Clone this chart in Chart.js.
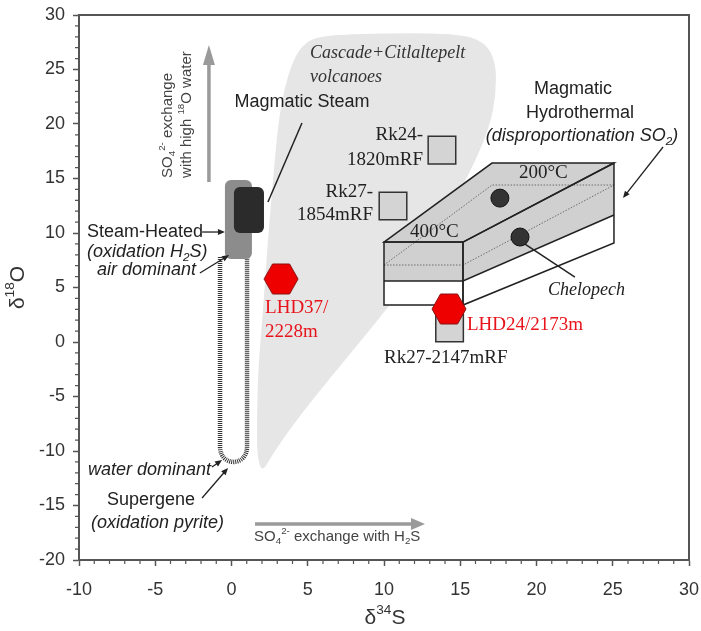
<!DOCTYPE html>
<html>
<head>
<meta charset="utf-8">
<script src="https://cdn.jsdelivr.net/npm/chart.js@4.4.1/dist/chart.umd.min.js"></script>
<style>
  html, body { margin: 0; padding: 0; background: #fff; }
  #wrap { width: 701px; height: 631px; }
</style>
</head>
<body>
<div id="wrap"><canvas id="chart" width="701" height="631"></canvas></div>
<script>
// axis ticks (d34S, d18O)
const xTicks = [-10, -5, 0, 5, 10, 15, 20, 25, 30];
const yTicks = [-20, -15, -10, -5, 0, 5, 10, 15, 20, 25, 30];

// samples
const lhdPoints = [{ x: 3.25, y: 5.78 }, { x: 14.26, y: 3.03 }];            // LHD37/2228m, LHD24/2173m
const chelopechPoints = [{ x: 17.6, y: 13.2 }, { x: 18.92, y: 9.63 }];
const rkPoints = [{ x: 13.8, y: 17.6 }, { x: 10.59, y: 12.48 }, { x: 14.3, y: 1.28 }];

// Cascade + Citlaltepelt field outline
const cascadeX = [2.0, 1.67, 1.67, 1.74, 2.07, 2.39, 2.72, 3.05, 3.44, 4.03, 4.82, 6.13, 11.05, 14.98,
  16.62, 17.34, 17.34, 16.95, 16.03, 14.66, 13.02, 11.51, 9.08, 6.46, 4.16, 2.66];
const cascadeY = [-12.02, -10.37, -7.16, -2.57, 2.94, 9.36, 14.86, 19.91, 23.12, 25.87, 27.52, 28.17, 28.35, 28.26,
  27.52, 25.69, 22.66, 19.91, 16.7, 13.03, 9.36, 5.41, 1.1, -3.3, -7.34, -10.37];

// steam heated / magmatic steam fields [x0, x1, y0, y1]
const steamHeated = [-0.43, 1.34, 7.61, 14.86];
const magmaticSteam = [0.16, 2.13, 10.0, 14.22];
// supergene path
const supergeneX = [-0.75, 1.02];
const supergeneY = [7.8, -9.6, -11.0];

// magmatic hydrothermal prism
const prismTop = [[10.0, 9.17], [17.08, 16.42], [25.08, 16.42], [15.18, 9.17]];
const prismFront = [[10.0, 9.17], [15.18, 9.17], [15.18, 3.39], [10.0, 3.39]];
const prismFrontBand = [[10.0, 9.17], [15.18, 9.17], [15.18, 5.6], [10.0, 5.6]];
const prismSide = [[15.18, 9.17], [25.08, 16.42], [25.08, 9.08], [15.18, 3.39]];
const prismSideBand = [[15.18, 9.17], [25.08, 16.42], [25.08, 11.65], [15.18, 5.6]];
const prismIso = [[[10.0, 7.06], [15.18, 7.06], [25.08, 14.4]], [[10.0, 7.06], [17.08, 14.4], [25.08, 14.4]]];

const SANS = '"Liberation Sans", Arial, sans-serif';
const SERIF = '"Liberation Serif", "Times New Roman", serif';

function hexagon(w, h) {
  const c = document.createElement('canvas');
  c.width = w + 2; c.height = h + 2;
  const g = c.getContext('2d');
  const cx = c.width / 2, cy = c.height / 2;
  g.beginPath();
  g.moveTo(cx - w / 2, cy);
  g.lineTo(cx - w / 4, cy - h / 2);
  g.lineTo(cx + w / 4, cy - h / 2);
  g.lineTo(cx + w / 2, cy);
  g.lineTo(cx + w / 4, cy + h / 2);
  g.lineTo(cx - w / 4, cy + h / 2);
  g.closePath();
  g.fillStyle = '#ee0000';
  g.fill();
  g.strokeStyle = '#8a1010';
  g.lineWidth = 1;
  g.stroke();
  return c;
}

// rich text: parts = [[text, kind]] kind '' | 'sub' | 'sup'
function rich(ctx, parts, x, y, o) {
  const size = o.size || 18, fam = o.family || SANS, st = o.style || '';
  const fnt = s => (st ? st + ' ' : '') + s + 'px ' + fam;
  let w = 0;
  const widths = parts.map(p => {
    ctx.font = fnt(p[1] ? size * 0.65 : size);
    const m = ctx.measureText(p[0]).width;
    w += m;
    return m;
  });
  let cx = x;
  if (o.align === 'center') cx = x - w / 2;
  if (o.align === 'right') cx = x - w;
  ctx.fillStyle = o.color || '#222';
  ctx.textBaseline = 'middle';
  ctx.textAlign = 'left';
  parts.forEach((p, i) => {
    ctx.font = fnt(p[1] ? size * 0.65 : size);
    let dy = 0;
    if (p[1] === 'sub') dy = size * 0.3;
    if (p[1] === 'sup') dy = -size * 0.35;
    ctx.fillText(p[0], cx, y + dy);
    cx += widths[i];
  });
}

function arrow(ctx, x1, y1, x2, y2, len, wid, color, lw) {
  const a = Math.atan2(y2 - y1, x2 - x1);
  ctx.strokeStyle = color;
  ctx.fillStyle = color;
  ctx.lineWidth = lw;
  ctx.beginPath();
  ctx.moveTo(x1, y1);
  ctx.lineTo(x2 - Math.cos(a) * len * 0.8, y2 - Math.sin(a) * len * 0.8);
  ctx.stroke();
  ctx.beginPath();
  ctx.moveTo(x2, y2);
  ctx.lineTo(x2 - Math.cos(a) * len - Math.sin(a) * wid / 2, y2 - Math.sin(a) * len + Math.cos(a) * wid / 2);
  ctx.lineTo(x2 - Math.cos(a) * len + Math.sin(a) * wid / 2, y2 - Math.sin(a) * len - Math.cos(a) * wid / 2);
  ctx.closePath();
  ctx.fill();
}

function roundRect(ctx, x, y, w, h, r) {
  ctx.beginPath();
  ctx.moveTo(x + r, y);
  ctx.arcTo(x + w, y, x + w, y + h, r);
  ctx.arcTo(x + w, y + h, x, y + h, r);
  ctx.arcTo(x, y + h, x, y, r);
  ctx.arcTo(x, y, x + w, y, r);
  ctx.closePath();
}

// text labels, anchored in data units
const labels = [
  { p: [['Magmatic Steam', '']], x: 4.62, y: 22.02, align: 'center' },
  { p: [['Cascade+Citlaltepelt', '']], x: 5.15, y: 26.5, family: SERIF, style: 'italic', size: 18, color: '#333' },
  { p: [['volcanoes', '']], x: 5.15, y: 24.3, family: SERIF, style: 'italic', size: 18, color: '#333' },
  { p: [['Magmatic', '']], x: 22.39, y: 23.21, align: 'center' },
  { p: [['Hydrothermal', '']], x: 22.85, y: 21.01, align: 'center' },
  { p: [['(disproportionation SO', ''], ['2', 'sub'], [')', '']], x: 22.98, y: 18.9, align: 'center', style: 'italic' },
  { p: [['Rk24-', '']], x: 12.56, y: 18.99, align: 'right', family: SERIF, size: 19 },
  { p: [['1820mRF', '']], x: 12.56, y: 16.7, align: 'right', family: SERIF, size: 19 },
  { p: [['Rk27-', '']], x: 9.28, y: 13.76, align: 'right', family: SERIF, size: 19 },
  { p: [['1854mRF', '']], x: 9.28, y: 11.65, align: 'right', family: SERIF, size: 19 },
  { p: [['Rk27-2147mRF', '']], x: 10.0, y: -1.47, family: SERIF, size: 19 },
  { p: [['LHD37/', '']], x: 2.2, y: 3.12, family: SERIF, size: 19, color: '#e8141b' },
  { p: [['2228m', '']], x: 2.2, y: 0.92, family: SERIF, size: 19, color: '#e8141b' },
  { p: [['LHD24/2173m', '']], x: 15.44, y: 1.56, family: SERIF, size: 19, color: '#e8141b' },
  { p: [['Chelopech', '']], x: 20.75, y: 4.77, family: SERIF, style: 'italic', size: 18 },
  { p: [['200°C', '']], x: 18.85, y: 15.5, family: SERIF, size: 19 },
  { p: [['400°C', '']], x: 11.7, y: 10.09, family: SERIF, size: 19 },
  { p: [['Steam-Heated', '']], x: -9.48, y: 10.09 },
  { p: [['(oxidation H', ''], ['2', 'sub'], ['S)', '']], x: -9.48, y: 8.26, style: 'italic' },
  { p: [['air dominant', '']], x: -8.82, y: 6.61, style: 'italic' },
  { p: [['water dominant', '']], x: -9.41, y: -11.74, style: 'italic' },
  { p: [['Supergene', '']], x: -8.16, y: -14.5 },
  { p: [['(oxidation pyrite)', '']], x: -9.21, y: -16.6, style: 'italic' },
  { p: [['SO', ''], ['4', 'sub'], ['2-', 'sup'], [' exchange with H', ''], ['2', 'sub'], ['S', '']], x: 1.48, y: -17.89, size: 15, color: '#444' }
];

// thin pointer arrows [x1, y1, x2, y2] in data units
const pointers = [
  [-1.93, 10.09, -0.43, 10.09],
  [-2.07, 6.33, -0.16, 7.98],
  [-1.28, -11.47, -0.62, -10.83],
  [-1.93, -14.31, -0.23, -11.56],
  [28.3, 17.89, 25.67, 13.21]
];
const leaders = [
  [4.62, 20.09, 2.39, 12.84],
  [19.05, 9.17, 22.52, 5.96]
];

const diagram = {
  id: 'diagram',
  beforeDatasetsDraw(chart) {
    const ctx = chart.ctx, xs = chart.scales.x, ys = chart.scales.y;
    const X = v => xs.getPixelForValue(v), Y = v => ys.getPixelForValue(v);
    ctx.save();

    // Cascade field
    const pts = cascadeX.map((v, i) => [X(v), Y(cascadeY[i])]);
    const n = pts.length;
    const mid = (a, b) => [(a[0] + b[0]) / 2, (a[1] + b[1]) / 2];
    ctx.beginPath();
    let m = mid(pts[n - 1], pts[0]);
    ctx.moveTo(m[0], m[1]);
    for (let i = 0; i < n; i++) {
      const m2 = mid(pts[i], pts[(i + 1) % n]);
      ctx.quadraticCurveTo(pts[i][0], pts[i][1], m2[0], m2[1]);
    }
    ctx.closePath();
    ctx.fillStyle = '#e6e6e6';
    ctx.fill();

    // supergene U path
    const xl = X(supergeneX[0]), xr = X(supergeneX[1]);
    const yt = Y(supergeneY[0]), ysr = Y(supergeneY[1]), yb = Y(supergeneY[2]);
    const c = (4 * yb - ysr) / 3;
    ctx.beginPath();
    ctx.moveTo(xl, yt);
    ctx.lineTo(xl, ysr);
    ctx.bezierCurveTo(xl, c, xr, c, xr, ysr);
    ctx.lineTo(xr, yt);
    ctx.setLineDash([1, 1]);
    ctx.lineWidth = 4.5;
    ctx.strokeStyle = '#333';
    ctx.stroke();
    ctx.setLineDash([]);

    // steam heated / magmatic steam
    roundRect(ctx, X(steamHeated[0]), Y(steamHeated[3]), X(steamHeated[1]) - X(steamHeated[0]), Y(steamHeated[2]) - Y(steamHeated[3]), 6);
    ctx.fillStyle = '#8c8c8c';
    ctx.fill();
    roundRect(ctx, X(magmaticSteam[0]), Y(magmaticSteam[3]), X(magmaticSteam[1]) - X(magmaticSteam[0]), Y(magmaticSteam[2]) - Y(magmaticSteam[3]), 6);
    ctx.fillStyle = '#2b2b2b';
    ctx.fill();

    // prism
    const poly = (arr, fill, stroke) => {
      ctx.beginPath();
      arr.forEach((p, i) => i ? ctx.lineTo(X(p[0]), Y(p[1])) : ctx.moveTo(X(p[0]), Y(p[1])));
      ctx.closePath();
      if (fill) { ctx.fillStyle = fill; ctx.fill(); }
      if (stroke) { ctx.strokeStyle = stroke; ctx.lineWidth = 1.5; ctx.stroke(); }
    };
    poly(prismFront, '#ffffff');
    poly(prismSide, '#ffffff');
    poly(prismFrontBand, '#d0d0d0');
    poly(prismSideBand, '#d0d0d0');
    poly(prismTop, '#d0d0d0');
    ctx.setLineDash([1.5, 1.5]);
    ctx.lineWidth = 0.8;
    ctx.strokeStyle = '#555';
    prismIso.forEach(line => {
      ctx.beginPath();
      line.forEach((p, i) => i ? ctx.lineTo(X(p[0]), Y(p[1])) : ctx.moveTo(X(p[0]), Y(p[1])));
      ctx.stroke();
    });
    ctx.setLineDash([]);
    poly(prismFront, null, '#222');
    poly(prismSide, null, '#222');
    poly(prismTop, null, '#222');
    ctx.beginPath();
    ctx.moveTo(X(prismFrontBand[3][0]), Y(prismFrontBand[3][1]));
    ctx.lineTo(X(prismFrontBand[2][0]), Y(prismFrontBand[2][1]));
    ctx.lineTo(X(prismSideBand[2][0]), Y(prismSideBand[2][1]));
    ctx.stroke();

    // leader lines
    ctx.strokeStyle = '#222';
    ctx.lineWidth = 1.5;
    leaders.forEach(l => {
      ctx.beginPath();
      ctx.moveTo(X(l[0]), Y(l[1]));
      ctx.lineTo(X(l[2]), Y(l[3]));
      ctx.stroke();
    });

    // grey process arrows
    arrow(ctx, X(-1.48), Y(14.68), X(-1.48), Y(27.25), 20, 12, '#9a9a9a', 3.5);
    arrow(ctx, X(1.54), Y(-16.7), X(12.69), Y(-16.7), 14, 12, '#9a9a9a', 3.5);
    ctx.restore();
  },
  afterDatasetsDraw(chart) {
    const ctx = chart.ctx, xs = chart.scales.x, ys = chart.scales.y;
    const X = v => xs.getPixelForValue(v), Y = v => ys.getPixelForValue(v);
    ctx.save();
    labels.forEach(l => rich(ctx, l.p, X(l.x), Y(l.y), l));
    pointers.forEach(p => arrow(ctx, X(p[0]), Y(p[1]), X(p[2]), Y(p[3]), 7, 6, '#222', 1.3));

    // rotated process text
    ctx.translate(X(-4.16), Y(15.05));
    ctx.rotate(-Math.PI / 2);
    rich(ctx, [['SO', ''], ['4', 'sub'], ['2-', 'sup'], [' exchange', '']], 0, 0, { size: 15, color: '#444' });
    ctx.setTransform(1, 0, 0, 1, 0, 0);
    ctx.translate(X(-2.92), Y(15.05));
    ctx.rotate(-Math.PI / 2);
    rich(ctx, [['with high ', ''], ['18', 'sup'], ['O water', '']], 0, 0, { size: 15, color: '#444' });
    ctx.restore();
  },
  afterDraw(chart) {
    const ctx = chart.ctx, xs = chart.scales.x, ys = chart.scales.y, a = chart.chartArea;
    ctx.save();
    // frame
    ctx.strokeStyle = '#555';
    ctx.lineWidth = 2;
    ctx.beginPath();
    ctx.moveTo(a.left, a.top);
    ctx.lineTo(a.right, a.top);
    ctx.lineTo(a.right, a.bottom);
    ctx.stroke();
    // minor ticks
    ctx.lineWidth = 1.2;
    ctx.beginPath();
    for (let v = xs.min; v <= xs.max; v++) {
      if (v % 5 === 0) continue;
      const x = xs.getPixelForValue(v);
      ctx.moveTo(x, a.bottom);
      ctx.lineTo(x, a.bottom + 4);
    }
    for (let v = ys.min; v <= ys.max; v++) {
      if (v % 5 === 0) continue;
      const y = ys.getPixelForValue(v);
      ctx.moveTo(a.left, y);
      ctx.lineTo(a.left - 4, y);
    }
    ctx.stroke();
    // axis titles
    rich(ctx, [['δ', ''], ['34', 'sup'], ['S', '']], (a.left + a.right) / 2 + 1, a.bottom + 58, { size: 21, align: 'center', color: '#333' });
    ctx.translate(18, (a.top + a.bottom) / 2);
    ctx.rotate(-Math.PI / 2);
    rich(ctx, [['δ', ''], ['18', 'sup'], ['O', '']], 0, 0, { size: 21, align: 'center', color: '#333' });
    ctx.restore();
  }
};

const tickFont = { family: SANS, size: 18 };

new Chart(document.getElementById('chart'), {
  type: 'scatter',
  data: {
    datasets: [
      { label: 'LHD', data: lhdPoints, pointStyle: hexagon(34, 30), pointRadius: 17 },
      { label: 'Chelopech', data: chelopechPoints, pointStyle: 'circle', pointRadius: 9,
        backgroundColor: '#333', borderColor: '#111', borderWidth: 1 },
      { label: 'Rk', data: rkPoints, pointStyle: 'rect', pointRadius: 19.5,
        backgroundColor: '#d4d4d4', borderColor: '#333', borderWidth: 1.5 }
    ]
  },
  options: {
    responsive: false,
    animation: false,
    devicePixelRatio: 1,
    layout: { autoPadding: false, padding: { top: 15, right: 12, left: 0, bottom: 0 } },
    plugins: { legend: { display: false }, tooltip: { enabled: false } },
    scales: {
      x: {
        type: 'linear', min: -10, max: 30,
        afterBuildTicks: s => { s.ticks = xTicks.map(v => ({ value: v })); },
        afterFit: s => { s.height = 71; s.paddingLeft = 0; s.paddingRight = 0; },
        ticks: { font: tickFont, color: '#333', padding: 13, maxRotation: 0 },
        grid: { drawOnChartArea: false, drawTicks: true, tickLength: 6, tickColor: '#555', tickWidth: 1.5 },
        border: { display: true, color: '#555', width: 2 }
      },
      y: {
        type: 'linear', min: -20, max: 30,
        afterBuildTicks: s => { s.ticks = yTicks.map(v => ({ value: v })); },
        afterFit: s => { s.width = 79; s.paddingTop = 0; s.paddingBottom = 0; },
        ticks: { font: tickFont, color: '#333', padding: 8 },
        grid: { drawOnChartArea: false, drawTicks: true, tickLength: 6, tickColor: '#555', tickWidth: 1.5 },
        border: { display: true, color: '#555', width: 2 }
      }
    }
  },
  plugins: [diagram]
});
</script>
</body>
</html>
